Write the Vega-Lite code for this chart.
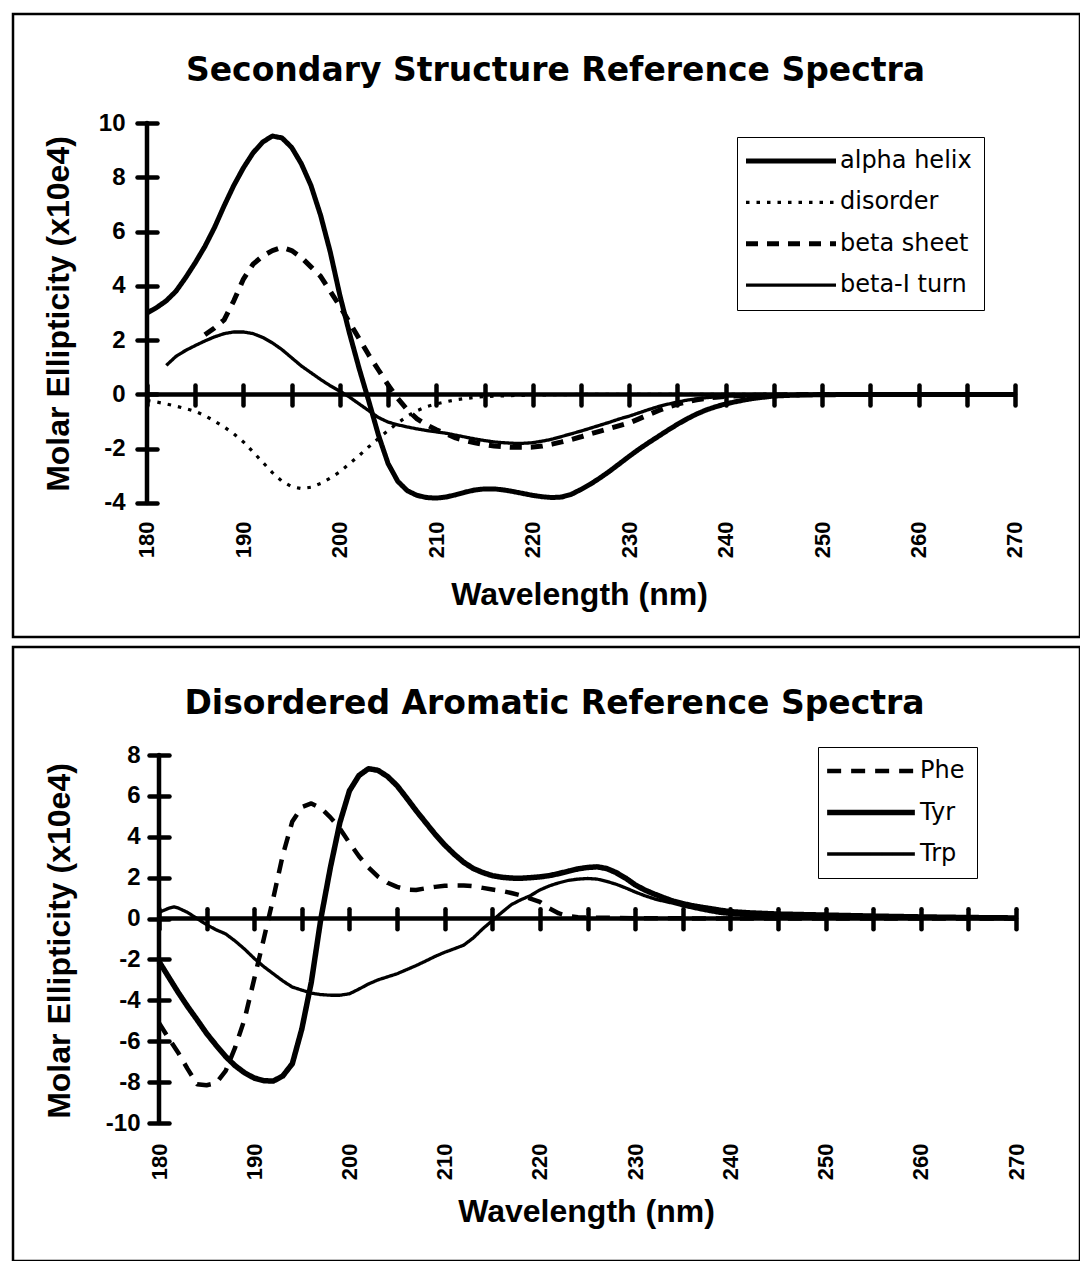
{
  "$schema": "https://vega.github.io/schema/vega-lite/v6.json",
  "padding": {"left": 11, "top": 12, "right": 0, "bottom": 0},
  "spacing": 6,
  "background": "white",
  "config": {"view": {"stroke": "black", "strokeWidth": 2.5}, "font": "Liberation Sans"},
  "resolve": {"scale": {"strokeDash": "independent"}, "legend": {"strokeDash": "independent"}},
  "datasets": {
    "top": [
      {"s":"alpha helix","x":180,"y":3.0},{"s":"alpha helix","x":181,"y":3.2},{"s":"alpha helix","x":182,"y":3.45},{"s":"alpha helix","x":183,"y":3.8},{"s":"alpha helix","x":184,"y":4.3},{"s":"alpha helix","x":185,"y":4.85},{"s":"alpha helix","x":186,"y":5.45},{"s":"alpha helix","x":187,"y":6.15},{"s":"alpha helix","x":188,"y":6.95},{"s":"alpha helix","x":189,"y":7.7},{"s":"alpha helix","x":190,"y":8.35},{"s":"alpha helix","x":191,"y":8.9},{"s":"alpha helix","x":192,"y":9.3},{"s":"alpha helix","x":193,"y":9.52},{"s":"alpha helix","x":194,"y":9.45},{"s":"alpha helix","x":195,"y":9.1},{"s":"alpha helix","x":196,"y":8.5},{"s":"alpha helix","x":197,"y":7.7},{"s":"alpha helix","x":198,"y":6.6},{"s":"alpha helix","x":199,"y":5.25},{"s":"alpha helix","x":200,"y":3.65},{"s":"alpha helix","x":201,"y":2.25},{"s":"alpha helix","x":202,"y":0.95},{"s":"alpha helix","x":203,"y":-0.25},{"s":"alpha helix","x":204,"y":-1.5},{"s":"alpha helix","x":205,"y":-2.55},{"s":"alpha helix","x":206,"y":-3.2},{"s":"alpha helix","x":207,"y":-3.55},{"s":"alpha helix","x":208,"y":-3.72},{"s":"alpha helix","x":209,"y":-3.8},{"s":"alpha helix","x":210,"y":-3.82},{"s":"alpha helix","x":211,"y":-3.78},{"s":"alpha helix","x":212,"y":-3.7},{"s":"alpha helix","x":213,"y":-3.6},{"s":"alpha helix","x":214,"y":-3.52},{"s":"alpha helix","x":215,"y":-3.48},{"s":"alpha helix","x":216,"y":-3.48},{"s":"alpha helix","x":217,"y":-3.52},{"s":"alpha helix","x":218,"y":-3.58},{"s":"alpha helix","x":219,"y":-3.65},{"s":"alpha helix","x":220,"y":-3.72},{"s":"alpha helix","x":221,"y":-3.77},{"s":"alpha helix","x":222,"y":-3.8},{"s":"alpha helix","x":223,"y":-3.78},{"s":"alpha helix","x":224,"y":-3.68},{"s":"alpha helix","x":225,"y":-3.5},{"s":"alpha helix","x":226,"y":-3.3},{"s":"alpha helix","x":227,"y":-3.07},{"s":"alpha helix","x":228,"y":-2.82},{"s":"alpha helix","x":229,"y":-2.55},{"s":"alpha helix","x":230,"y":-2.28},{"s":"alpha helix","x":231,"y":-2.02},{"s":"alpha helix","x":232,"y":-1.78},{"s":"alpha helix","x":233,"y":-1.55},{"s":"alpha helix","x":234,"y":-1.32},{"s":"alpha helix","x":235,"y":-1.1},{"s":"alpha helix","x":236,"y":-0.9},{"s":"alpha helix","x":237,"y":-0.72},{"s":"alpha helix","x":238,"y":-0.57},{"s":"alpha helix","x":239,"y":-0.45},{"s":"alpha helix","x":240,"y":-0.35},{"s":"alpha helix","x":241,"y":-0.27},{"s":"alpha helix","x":242,"y":-0.2},{"s":"alpha helix","x":243,"y":-0.14},{"s":"alpha helix","x":244,"y":-0.1},{"s":"alpha helix","x":245,"y":-0.06},{"s":"alpha helix","x":247,"y":-0.03},{"s":"alpha helix","x":250,"y":-0.01},{"s":"alpha helix","x":255,"y":0},{"s":"alpha helix","x":260,"y":0},{"s":"alpha helix","x":265,"y":0},{"s":"alpha helix","x":270,"y":0},
      {"s":"disorder","x":180,"y":-0.22},{"s":"disorder","x":181,"y":-0.28},{"s":"disorder","x":182,"y":-0.35},{"s":"disorder","x":183,"y":-0.43},{"s":"disorder","x":184,"y":-0.52},{"s":"disorder","x":185,"y":-0.62},{"s":"disorder","x":186,"y":-0.78},{"s":"disorder","x":187,"y":-0.98},{"s":"disorder","x":188,"y":-1.2},{"s":"disorder","x":189,"y":-1.45},{"s":"disorder","x":190,"y":-1.75},{"s":"disorder","x":191,"y":-2.12},{"s":"disorder","x":192,"y":-2.5},{"s":"disorder","x":193,"y":-2.88},{"s":"disorder","x":194,"y":-3.2},{"s":"disorder","x":195,"y":-3.4},{"s":"disorder","x":196,"y":-3.47},{"s":"disorder","x":197,"y":-3.42},{"s":"disorder","x":198,"y":-3.28},{"s":"disorder","x":199,"y":-3.08},{"s":"disorder","x":200,"y":-2.85},{"s":"disorder","x":201,"y":-2.55},{"s":"disorder","x":202,"y":-2.25},{"s":"disorder","x":203,"y":-1.93},{"s":"disorder","x":204,"y":-1.62},{"s":"disorder","x":205,"y":-1.33},{"s":"disorder","x":206,"y":-1.05},{"s":"disorder","x":207,"y":-0.8},{"s":"disorder","x":208,"y":-0.6},{"s":"disorder","x":209,"y":-0.45},{"s":"disorder","x":210,"y":-0.35},{"s":"disorder","x":211,"y":-0.27},{"s":"disorder","x":212,"y":-0.2},{"s":"disorder","x":213,"y":-0.15},{"s":"disorder","x":214,"y":-0.11},{"s":"disorder","x":215,"y":-0.08},{"s":"disorder","x":217,"y":-0.05},{"s":"disorder","x":220,"y":-0.02},{"s":"disorder","x":225,"y":0},{"s":"disorder","x":240,"y":0},{"s":"disorder","x":270,"y":0},
      {"s":"beta sheet","x":186,"y":2.2},{"s":"beta sheet","x":187,"y":2.45},{"s":"beta sheet","x":188,"y":2.75},{"s":"beta sheet","x":189,"y":3.45},{"s":"beta sheet","x":190,"y":4.25},{"s":"beta sheet","x":191,"y":4.8},{"s":"beta sheet","x":192,"y":5.1},{"s":"beta sheet","x":193,"y":5.3},{"s":"beta sheet","x":194,"y":5.42},{"s":"beta sheet","x":195,"y":5.3},{"s":"beta sheet","x":196,"y":5.05},{"s":"beta sheet","x":197,"y":4.7},{"s":"beta sheet","x":198,"y":4.35},{"s":"beta sheet","x":199,"y":3.8},{"s":"beta sheet","x":200,"y":3.25},{"s":"beta sheet","x":201,"y":2.65},{"s":"beta sheet","x":202,"y":2.05},{"s":"beta sheet","x":203,"y":1.45},{"s":"beta sheet","x":204,"y":0.9},{"s":"beta sheet","x":205,"y":0.35},{"s":"beta sheet","x":206,"y":-0.15},{"s":"beta sheet","x":207,"y":-0.57},{"s":"beta sheet","x":208,"y":-0.9},{"s":"beta sheet","x":209,"y":-1.12},{"s":"beta sheet","x":210,"y":-1.3},{"s":"beta sheet","x":211,"y":-1.45},{"s":"beta sheet","x":212,"y":-1.6},{"s":"beta sheet","x":213,"y":-1.7},{"s":"beta sheet","x":214,"y":-1.78},{"s":"beta sheet","x":215,"y":-1.85},{"s":"beta sheet","x":216,"y":-1.9},{"s":"beta sheet","x":217,"y":-1.93},{"s":"beta sheet","x":218,"y":-1.95},{"s":"beta sheet","x":219,"y":-1.95},{"s":"beta sheet","x":220,"y":-1.94},{"s":"beta sheet","x":221,"y":-1.9},{"s":"beta sheet","x":222,"y":-1.83},{"s":"beta sheet","x":223,"y":-1.75},{"s":"beta sheet","x":224,"y":-1.66},{"s":"beta sheet","x":225,"y":-1.56},{"s":"beta sheet","x":226,"y":-1.45},{"s":"beta sheet","x":227,"y":-1.35},{"s":"beta sheet","x":228,"y":-1.25},{"s":"beta sheet","x":229,"y":-1.15},{"s":"beta sheet","x":230,"y":-1.05},{"s":"beta sheet","x":231,"y":-0.9},{"s":"beta sheet","x":232,"y":-0.75},{"s":"beta sheet","x":233,"y":-0.6},{"s":"beta sheet","x":234,"y":-0.47},{"s":"beta sheet","x":235,"y":-0.36},{"s":"beta sheet","x":236,"y":-0.27},{"s":"beta sheet","x":237,"y":-0.2},{"s":"beta sheet","x":238,"y":-0.14},{"s":"beta sheet","x":239,"y":-0.1},{"s":"beta sheet","x":240,"y":-0.07},{"s":"beta sheet","x":242,"y":-0.04},{"s":"beta sheet","x":245,"y":-0.02},{"s":"beta sheet","x":250,"y":0},{"s":"beta sheet","x":260,"y":0},{"s":"beta sheet","x":270,"y":0},
      {"s":"beta-I turn","x":182,"y":1.07},{"s":"beta-I turn","x":183,"y":1.4},{"s":"beta-I turn","x":184,"y":1.62},{"s":"beta-I turn","x":185,"y":1.8},{"s":"beta-I turn","x":186,"y":1.97},{"s":"beta-I turn","x":187,"y":2.12},{"s":"beta-I turn","x":188,"y":2.24},{"s":"beta-I turn","x":189,"y":2.3},{"s":"beta-I turn","x":190,"y":2.3},{"s":"beta-I turn","x":191,"y":2.24},{"s":"beta-I turn","x":192,"y":2.1},{"s":"beta-I turn","x":193,"y":1.9},{"s":"beta-I turn","x":194,"y":1.65},{"s":"beta-I turn","x":195,"y":1.35},{"s":"beta-I turn","x":196,"y":1.05},{"s":"beta-I turn","x":197,"y":0.8},{"s":"beta-I turn","x":198,"y":0.55},{"s":"beta-I turn","x":199,"y":0.32},{"s":"beta-I turn","x":200,"y":0.12},{"s":"beta-I turn","x":201,"y":-0.1},{"s":"beta-I turn","x":202,"y":-0.35},{"s":"beta-I turn","x":203,"y":-0.6},{"s":"beta-I turn","x":204,"y":-0.85},{"s":"beta-I turn","x":205,"y":-1.02},{"s":"beta-I turn","x":206,"y":-1.12},{"s":"beta-I turn","x":207,"y":-1.2},{"s":"beta-I turn","x":208,"y":-1.27},{"s":"beta-I turn","x":209,"y":-1.33},{"s":"beta-I turn","x":210,"y":-1.38},{"s":"beta-I turn","x":211,"y":-1.43},{"s":"beta-I turn","x":212,"y":-1.5},{"s":"beta-I turn","x":213,"y":-1.57},{"s":"beta-I turn","x":214,"y":-1.64},{"s":"beta-I turn","x":215,"y":-1.7},{"s":"beta-I turn","x":216,"y":-1.75},{"s":"beta-I turn","x":217,"y":-1.78},{"s":"beta-I turn","x":218,"y":-1.8},{"s":"beta-I turn","x":219,"y":-1.8},{"s":"beta-I turn","x":220,"y":-1.78},{"s":"beta-I turn","x":221,"y":-1.72},{"s":"beta-I turn","x":222,"y":-1.65},{"s":"beta-I turn","x":223,"y":-1.55},{"s":"beta-I turn","x":224,"y":-1.45},{"s":"beta-I turn","x":225,"y":-1.35},{"s":"beta-I turn","x":226,"y":-1.24},{"s":"beta-I turn","x":227,"y":-1.13},{"s":"beta-I turn","x":228,"y":-1.02},{"s":"beta-I turn","x":229,"y":-0.9},{"s":"beta-I turn","x":230,"y":-0.8},{"s":"beta-I turn","x":231,"y":-0.68},{"s":"beta-I turn","x":232,"y":-0.56},{"s":"beta-I turn","x":233,"y":-0.45},{"s":"beta-I turn","x":234,"y":-0.36},{"s":"beta-I turn","x":235,"y":-0.28},{"s":"beta-I turn","x":236,"y":-0.21},{"s":"beta-I turn","x":237,"y":-0.16},{"s":"beta-I turn","x":238,"y":-0.12},{"s":"beta-I turn","x":239,"y":-0.09},{"s":"beta-I turn","x":240,"y":-0.07},{"s":"beta-I turn","x":242,"y":-0.04},{"s":"beta-I turn","x":245,"y":-0.02},{"s":"beta-I turn","x":250,"y":0},{"s":"beta-I turn","x":260,"y":0},{"s":"beta-I turn","x":270,"y":0}
    ],
    "bot": [
      {"s":"Phe","x":180,"y":-5.1},{"s":"Phe","x":181,"y":-5.85},{"s":"Phe","x":182,"y":-6.55},{"s":"Phe","x":183,"y":-7.35},{"s":"Phe","x":184,"y":-8.1},{"s":"Phe","x":185,"y":-8.15},{"s":"Phe","x":186,"y":-8.05},{"s":"Phe","x":187,"y":-7.45},{"s":"Phe","x":188,"y":-6.3},{"s":"Phe","x":189,"y":-4.9},{"s":"Phe","x":190,"y":-2.95},{"s":"Phe","x":191,"y":-1.0},{"s":"Phe","x":192,"y":1.0},{"s":"Phe","x":193,"y":3.1},{"s":"Phe","x":194,"y":4.75},{"s":"Phe","x":195,"y":5.45},{"s":"Phe","x":196,"y":5.63},{"s":"Phe","x":197,"y":5.4},{"s":"Phe","x":198,"y":4.95},{"s":"Phe","x":199,"y":4.4},{"s":"Phe","x":200,"y":3.7},{"s":"Phe","x":201,"y":3.05},{"s":"Phe","x":202,"y":2.5},{"s":"Phe","x":203,"y":2.05},{"s":"Phe","x":204,"y":1.75},{"s":"Phe","x":205,"y":1.55},{"s":"Phe","x":206,"y":1.42},{"s":"Phe","x":207,"y":1.4},{"s":"Phe","x":208,"y":1.48},{"s":"Phe","x":209,"y":1.55},{"s":"Phe","x":210,"y":1.6},{"s":"Phe","x":211,"y":1.62},{"s":"Phe","x":212,"y":1.62},{"s":"Phe","x":213,"y":1.58},{"s":"Phe","x":214,"y":1.5},{"s":"Phe","x":215,"y":1.42},{"s":"Phe","x":216,"y":1.35},{"s":"Phe","x":217,"y":1.25},{"s":"Phe","x":218,"y":1.13},{"s":"Phe","x":219,"y":0.98},{"s":"Phe","x":220,"y":0.82},{"s":"Phe","x":221,"y":0.5},{"s":"Phe","x":222,"y":0.25},{"s":"Phe","x":223,"y":0.12},{"s":"Phe","x":224,"y":0.07},{"s":"Phe","x":225,"y":0.05},{"s":"Phe","x":230,"y":0.02},{"s":"Phe","x":240,"y":0},{"s":"Phe","x":250,"y":0},{"s":"Phe","x":270,"y":0},
      {"s":"Tyr","x":180,"y":-2.1},{"s":"Tyr","x":181,"y":-2.85},{"s":"Tyr","x":182,"y":-3.6},{"s":"Tyr","x":183,"y":-4.3},{"s":"Tyr","x":184,"y":-4.95},{"s":"Tyr","x":185,"y":-5.62},{"s":"Tyr","x":186,"y":-6.2},{"s":"Tyr","x":187,"y":-6.75},{"s":"Tyr","x":188,"y":-7.2},{"s":"Tyr","x":189,"y":-7.55},{"s":"Tyr","x":190,"y":-7.8},{"s":"Tyr","x":191,"y":-7.93},{"s":"Tyr","x":192,"y":-7.95},{"s":"Tyr","x":193,"y":-7.7},{"s":"Tyr","x":194,"y":-7.1},{"s":"Tyr","x":195,"y":-5.4},{"s":"Tyr","x":196,"y":-3.1},{"s":"Tyr","x":197,"y":0},{"s":"Tyr","x":198,"y":2.5},{"s":"Tyr","x":199,"y":4.7},{"s":"Tyr","x":200,"y":6.25},{"s":"Tyr","x":201,"y":7.0},{"s":"Tyr","x":202,"y":7.33},{"s":"Tyr","x":203,"y":7.25},{"s":"Tyr","x":204,"y":6.95},{"s":"Tyr","x":205,"y":6.5},{"s":"Tyr","x":206,"y":5.9},{"s":"Tyr","x":207,"y":5.28},{"s":"Tyr","x":208,"y":4.7},{"s":"Tyr","x":209,"y":4.12},{"s":"Tyr","x":210,"y":3.6},{"s":"Tyr","x":211,"y":3.15},{"s":"Tyr","x":212,"y":2.75},{"s":"Tyr","x":213,"y":2.45},{"s":"Tyr","x":214,"y":2.25},{"s":"Tyr","x":215,"y":2.1},{"s":"Tyr","x":216,"y":2.02},{"s":"Tyr","x":217,"y":1.98},{"s":"Tyr","x":218,"y":1.97},{"s":"Tyr","x":219,"y":2.0},{"s":"Tyr","x":220,"y":2.04},{"s":"Tyr","x":221,"y":2.1},{"s":"Tyr","x":222,"y":2.2},{"s":"Tyr","x":223,"y":2.32},{"s":"Tyr","x":224,"y":2.43},{"s":"Tyr","x":225,"y":2.5},{"s":"Tyr","x":226,"y":2.53},{"s":"Tyr","x":227,"y":2.45},{"s":"Tyr","x":228,"y":2.25},{"s":"Tyr","x":229,"y":1.98},{"s":"Tyr","x":230,"y":1.65},{"s":"Tyr","x":231,"y":1.4},{"s":"Tyr","x":232,"y":1.2},{"s":"Tyr","x":233,"y":1.02},{"s":"Tyr","x":234,"y":0.85},{"s":"Tyr","x":235,"y":0.73},{"s":"Tyr","x":236,"y":0.63},{"s":"Tyr","x":237,"y":0.55},{"s":"Tyr","x":238,"y":0.48},{"s":"Tyr","x":239,"y":0.4},{"s":"Tyr","x":240,"y":0.34},{"s":"Tyr","x":242,"y":0.28},{"s":"Tyr","x":245,"y":0.22},{"s":"Tyr","x":250,"y":0.17},{"s":"Tyr","x":255,"y":0.12},{"s":"Tyr","x":260,"y":0.08},{"s":"Tyr","x":265,"y":0.05},{"s":"Tyr","x":270,"y":0.03},
      {"s":"Trp","x":180,"y":0.3},{"s":"Trp","x":181,"y":0.5},{"s":"Trp","x":181.6,"y":0.57},{"s":"Trp","x":182,"y":0.52},{"s":"Trp","x":183,"y":0.3},{"s":"Trp","x":184,"y":0.0},{"s":"Trp","x":185,"y":-0.3},{"s":"Trp","x":186,"y":-0.55},{"s":"Trp","x":187,"y":-0.75},{"s":"Trp","x":188,"y":-1.1},{"s":"Trp","x":189,"y":-1.5},{"s":"Trp","x":190,"y":-1.95},{"s":"Trp","x":191,"y":-2.35},{"s":"Trp","x":192,"y":-2.7},{"s":"Trp","x":193,"y":-3.05},{"s":"Trp","x":194,"y":-3.35},{"s":"Trp","x":195,"y":-3.5},{"s":"Trp","x":196,"y":-3.65},{"s":"Trp","x":197,"y":-3.72},{"s":"Trp","x":198,"y":-3.75},{"s":"Trp","x":199,"y":-3.75},{"s":"Trp","x":200,"y":-3.68},{"s":"Trp","x":201,"y":-3.45},{"s":"Trp","x":202,"y":-3.2},{"s":"Trp","x":203,"y":-3.0},{"s":"Trp","x":204,"y":-2.85},{"s":"Trp","x":205,"y":-2.7},{"s":"Trp","x":206,"y":-2.5},{"s":"Trp","x":207,"y":-2.3},{"s":"Trp","x":208,"y":-2.08},{"s":"Trp","x":209,"y":-1.85},{"s":"Trp","x":210,"y":-1.65},{"s":"Trp","x":211,"y":-1.48},{"s":"Trp","x":212,"y":-1.3},{"s":"Trp","x":213,"y":-0.95},{"s":"Trp","x":214,"y":-0.5},{"s":"Trp","x":215,"y":-0.1},{"s":"Trp","x":216,"y":0.3},{"s":"Trp","x":217,"y":0.68},{"s":"Trp","x":218,"y":0.92},{"s":"Trp","x":219,"y":1.12},{"s":"Trp","x":220,"y":1.4},{"s":"Trp","x":221,"y":1.6},{"s":"Trp","x":222,"y":1.75},{"s":"Trp","x":223,"y":1.87},{"s":"Trp","x":224,"y":1.93},{"s":"Trp","x":225,"y":1.96},{"s":"Trp","x":226,"y":1.93},{"s":"Trp","x":227,"y":1.82},{"s":"Trp","x":228,"y":1.68},{"s":"Trp","x":229,"y":1.5},{"s":"Trp","x":230,"y":1.3},{"s":"Trp","x":231,"y":1.12},{"s":"Trp","x":232,"y":0.97},{"s":"Trp","x":233,"y":0.85},{"s":"Trp","x":234,"y":0.75},{"s":"Trp","x":235,"y":0.62},{"s":"Trp","x":236,"y":0.52},{"s":"Trp","x":237,"y":0.42},{"s":"Trp","x":238,"y":0.33},{"s":"Trp","x":239,"y":0.25},{"s":"Trp","x":240,"y":0.2},{"s":"Trp","x":242,"y":0.15},{"s":"Trp","x":245,"y":0.1},{"s":"Trp","x":250,"y":0.06},{"s":"Trp","x":255,"y":0.03},{"s":"Trp","x":260,"y":0.02},{"s":"Trp","x":270,"y":0.01}
    ]
  },
  "vconcat": [
    {
      "width": 1067,
      "height": 623,
      "title": {"text": "Secondary Structure Reference Spectra", "font": "DejaVu Sans", "fontSize": 33, "fontWeight": "bold", "color": "black", "anchor": "middle", "frame": "group", "offset": -100, "baseline": "alphabetic", "dx": 9},
      "resolve": {"axis": {"x": "independent", "y": "independent"}},
      "layer": [
        {
          "data": {"values": [{}]},
          "mark": {"type": "rule", "strokeWidth": 4.5, "color": "black", "strokeCap": "round"},
          "encoding": {
            "x": {"datum": 180, "type": "quantitative", "scale": {"domain": [166.106, 276.74], "nice": false, "zero": false},
              "axis": {"orient": "bottom", "offset": -252, "values": [180,185,190,195,200,205,210,215,220,225,230,235,240,245,250,255,260,265,270], "domain": false, "labels": false, "ticks": true, "tickSize": 20, "tickWidth": 4.5, "tickCap": "round", "tickColor": "black", "grid": false, "title": null}},
            "x2": {"datum": 270},
            "y": {"datum": 0, "type": "quantitative", "scale": {"domain": [-8.937, 14.016], "nice": false, "zero": false}, "axis": null}
          }
        },
        {
          "data": {"values": [{}]},
          "mark": {"type": "rule", "strokeWidth": 4.5, "color": "black", "strokeCap": "round"},
          "encoding": {
            "x": {"datum": 180, "type": "quantitative", "axis": null},
            "y": {"datum": -4, "type": "quantitative",
              "axis": {"orient": "left", "offset": -144, "values": [-4,-2,0,2,4,6,8,10], "labelExpr": "'' + datum.value", "domain": false, "tickSize": 20, "tickWidth": 4.5, "tickCap": "round", "tickColor": "black", "labelFont": "Liberation Sans", "labelFontSize": 24, "labelFontWeight": "bold", "labelColor": "black", "labelPadding": 12, "labelOverlap": false, "labelFlush": false, "grid": false,
                "title": "Molar Ellipticity (x10e4)", "titleFont": "Liberation Sans", "titleFontSize": 32, "titleFontWeight": "bold", "titleColor": "black", "titleX": -99, "titleY": 299.5, "titleAngle": -90, "titleBaseline": "middle", "titleAlign": "center"}},
            "y2": {"datum": 10}
          }
        },
        {
          "data": {"name": "top"},
          "mark": {"type": "line", "color": "black", "strokeJoin": "round"},
          "encoding": {
            "x": {"field": "x", "type": "quantitative",
              "axis": {"orient": "bottom", "offset": -134, "values": [180,190,200,210,220,230,240,250,260,270], "domain": false, "ticks": false, "tickSize": 0, "labelAngle": -90, "labelAlign": "right", "labelBaseline": "middle", "labelPadding": 18, "labelFont": "Liberation Sans", "labelFontSize": 22, "labelFontWeight": "bold", "labelColor": "black", "labelFlush": false, "labelOverlap": false, "grid": false,
                "title": "Wavelength (nm)", "titleFont": "Liberation Sans", "titleFontSize": 32, "titleFontWeight": "bold", "titleColor": "black", "titleX": 566, "titleY": 91, "titleBaseline": "middle", "titleAlign": "center"}},
            "y": {"field": "y", "type": "quantitative", "axis": null},
            "strokeDash": {"field": "s", "type": "nominal", "scale": {"domain": ["alpha helix", "disorder", "beta sheet", "beta-I turn"], "range": [[1,0],[3.5,7],[12,9],[1,0]]},
              "legend": {"title": null, "orient": "none", "legendX": 724, "legendY": 123, "symbolType": "M-4.5,0H4.5", "symbolSize": 400, "symbolStrokeColor": "black", "symbolFillColor": "transparent", "symbolStrokeWidth": {"expr": "datum.value == 'alpha helix' || datum.value == 'beta sheet' ? 5 : 3.2"}, "symbolOffset": 30, "labelOffset": 37, "rowPadding": 17.4, "labelFont": "DejaVu Sans", "labelFontSize": 24, "labelColor": "black", "strokeColor": "black", "padding": 12, "fillColor": "white"}},
            "strokeWidth": {"condition": [{"test": "datum.s == 'alpha helix' || datum.s == 'beta sheet'", "value": 5}, {"test": "datum.s == 'disorder'", "value": 3.2}], "value": 3.3}
          }
        }
      ]
    },
    {
      "width": 1067,
      "height": 614,
      "title": {"text": "Disordered Aromatic Reference Spectra", "font": "DejaVu Sans", "fontSize": 33, "fontWeight": "bold", "color": "black", "anchor": "middle", "frame": "group", "offset": -100, "baseline": "alphabetic", "dx": 8},
      "resolve": {"axis": {"x": "independent", "y": "independent"}},
      "layer": [
        {
          "data": {"values": [{}]},
          "mark": {"type": "rule", "strokeWidth": 4.5, "color": "black", "strokeCap": "round"},
          "encoding": {
            "x": {"datum": 180, "type": "quantitative", "scale": {"domain": [164.667, 276.721], "nice": false, "zero": false},
              "axis": {"orient": "bottom", "offset": -352.3, "values": [180,185,190,195,200,205,210,215,220,225,230,235,240,245,250,255,260,265,270], "domain": false, "labels": false, "ticks": true, "tickSize": 20, "tickWidth": 4.5, "tickCap": "round", "tickColor": "black", "grid": false, "title": null}},
            "x2": {"datum": 270},
            "y": {"datum": 0, "type": "quantitative", "scale": {"domain": [-16.75, 13.283], "nice": false, "zero": false}, "axis": null}
          }
        },
        {
          "data": {"values": [{}]},
          "mark": {"type": "rule", "strokeWidth": 4.5, "color": "black", "strokeCap": "round"},
          "encoding": {
            "x": {"datum": 180, "type": "quantitative", "axis": null},
            "y": {"datum": -10, "type": "quantitative",
              "axis": {"orient": "left", "offset": -156, "values": [-10,-8,-6,-4,-2,0,2,4,6,8], "labelExpr": "'' + datum.value", "domain": false, "tickSize": 20, "tickWidth": 4.5, "tickCap": "round", "tickColor": "black", "labelFont": "Liberation Sans", "labelFontSize": 24, "labelFontWeight": "bold", "labelColor": "black", "labelPadding": 9, "labelOverlap": false, "labelFlush": false, "grid": false,
                "title": "Molar Ellipticity (x10e4)", "titleFont": "Liberation Sans", "titleFontSize": 32, "titleFontWeight": "bold", "titleColor": "black", "titleX": -110, "titleY": 293.5, "titleAngle": -90, "titleBaseline": "middle", "titleAlign": "center"}},
            "y2": {"datum": 8}
          }
        },
        {
          "data": {"name": "bot"},
          "mark": {"type": "line", "color": "black", "strokeJoin": "round"},
          "encoding": {
            "x": {"field": "x", "type": "quantitative",
              "axis": {"orient": "bottom", "offset": -138, "values": [180,190,200,210,220,230,240,250,260,270], "domain": false, "ticks": false, "tickSize": 0, "labelAngle": -90, "labelAlign": "right", "labelBaseline": "middle", "labelPadding": 20, "labelFont": "Liberation Sans", "labelFontSize": 22, "labelFontWeight": "bold", "labelColor": "black", "labelFlush": false, "labelOverlap": false, "grid": false,
                "title": "Wavelength (nm)", "titleFont": "Liberation Sans", "titleFontSize": 32, "titleFontWeight": "bold", "titleColor": "black", "titleX": 573, "titleY": 88, "titleBaseline": "middle", "titleAlign": "center"}},
            "y": {"field": "y", "type": "quantitative", "axis": null},
            "strokeDash": {"field": "s", "type": "nominal", "scale": {"domain": ["Phe", "Tyr", "Trp"], "range": [[14,10],[1,0],[1,0]]},
              "legend": {"title": null, "orient": "none", "legendX": 805, "legendY": 100, "symbolType": "M-4.5,0H4.5", "symbolSize": 380, "symbolStrokeColor": "black", "symbolFillColor": "transparent", "symbolStrokeWidth": {"expr": "datum.value == 'Trp' ? 3.3 : (datum.value == 'Tyr' ? 5.5 : 4.5)"}, "symbolOffset": 29, "labelOffset": 37, "rowPadding": 17.5, "labelFont": "DejaVu Sans", "labelFontSize": 24, "labelColor": "black", "strokeColor": "black", "padding": 12, "fillColor": "white"}},
            "strokeWidth": {"condition": [{"test": "datum.s == 'Trp'", "value": 3.3}, {"test": "datum.s == 'Tyr'", "value": 5.5}], "value": 4.5}
          }
        }
      ]
    }
  ]
}
